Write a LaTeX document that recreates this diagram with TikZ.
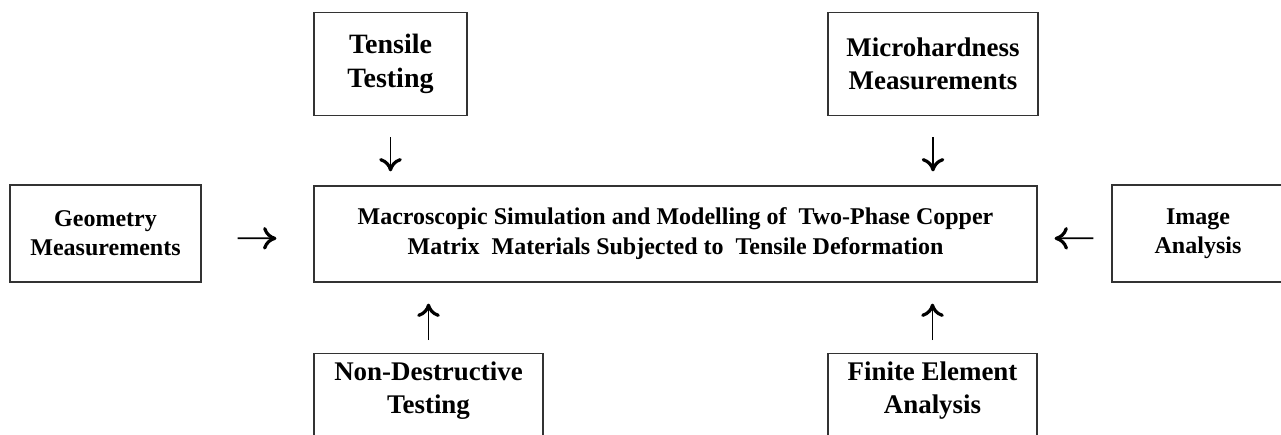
\documentclass[tikz,border=0pt]{standalone}
\usepackage{fontspec}
\setmainfont{Liberation Serif}
\usetikzlibrary{
  arrows.meta,
  positioning,
}
\tikzset{
  >={Computer Modern Rightarrow[length=10pt,width=17pt,line width=2.4pt]},
  block/.style={draw=black!80, line width=0.9pt, align=center, inner sep=0pt,
    font=\fontsize{20.2}{24.5}\selectfont\bfseries},
  side block/.style={block, font=\fontsize{18}{21.75}\selectfont\bfseries},
  open block/.style={block, anchor=north, inner ysep=6.5pt, text depth=70pt},
  link/.style={->, line width=1.3pt},
}

\begin{document}
\begin{tikzpicture}[x=0.75pt, y=-0.75pt]
      \useasboundingbox (0,0) rectangle (1281,435);
      \clip (0,0) rectangle (1281,435);

      \node [block, minimum width=542.25pt, minimum height=72pt,
        font=\fontsize{18}{22.5}\selectfont\bfseries] (model) at (675.5,234)
        {Macroscopic Simulation and Modelling of\ \ Two-Phase Copper\\
         Matrix\ \ Materials Subjected to\ \ Tensile Deformation};

      \node [block, minimum width=114.75pt, minimum height=77.25pt,
        font=\fontsize{21}{25}\selectfont\bfseries] (tensile) at (390.5,64) {Tensile\\Testing};
      \node [block, minimum width=157.5pt, minimum height=77.25pt] (hardness) at (933,64) {Microhardness\\Measurements};
      \node [side block, minimum width=143.25pt, minimum height=72.75pt] (geometry) at (105.5,233.5) {Geometry\\Measurements};
      \node [side block, minimum width=129pt, minimum height=72.75pt] (image) at (1198,233.5) {Image\\Analysis};
      \node [open block, minimum width=171.75pt] (ndt) at (428.5,353) {Non-Destructive\\Testing};
      \node [open block, minimum width=156.75pt] (fea) at (932.5,353) {Finite Element\\Analysis};

      \draw [link, shorten <=16pt, shorten >=10.5pt] (tensile.south) -- (tensile.south |- model.north);
      \draw [link, shorten <=16pt, shorten >=10.5pt] (hardness.south) -- (hardness.south |- model.north);

      \draw [link, shorten <=9.75pt, shorten >=15.75pt] (ndt.north) -- (ndt.north |- model.south);
      \draw [link, shorten <=9.75pt, shorten >=15.75pt] (fea.north) -- (fea.north |- model.south);

      \draw [link, shorten <=27pt, shorten >=27.75pt, transform canvas={yshift=-3.4pt}] (geometry.east) -- (model.west);
      \draw [link, shorten <=13.5pt, shorten >=12.75pt, transform canvas={yshift=-3.4pt}] (image.west) -- (model.east);
    \end{tikzpicture}
\end{document}
